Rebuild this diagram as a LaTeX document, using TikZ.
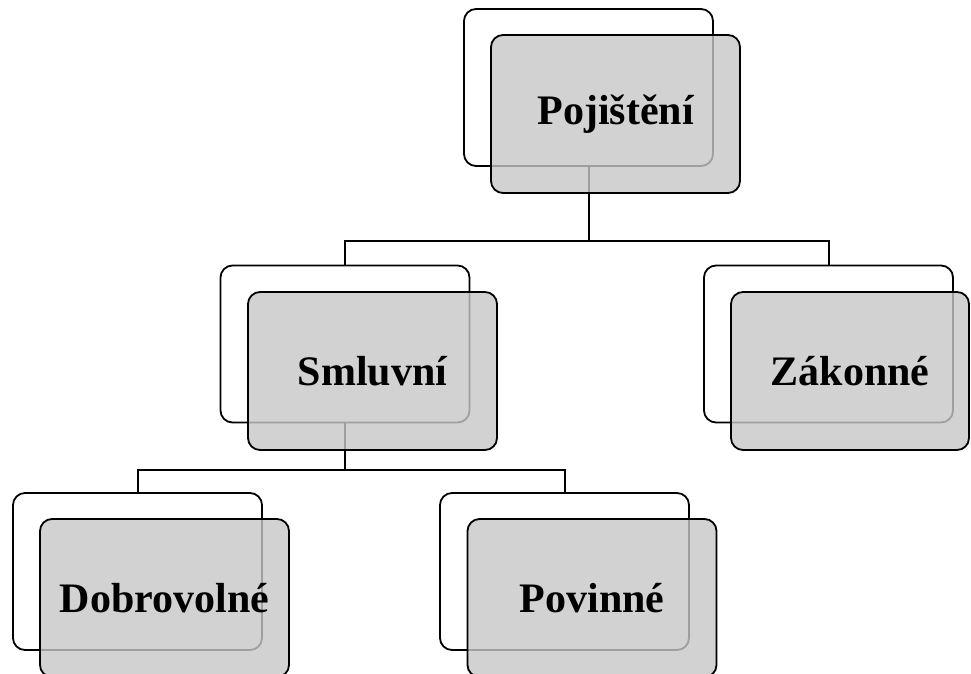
\documentclass[tikz,border=0pt]{standalone}
\usepackage{fontspec}
\setmainfont{Liberation Serif}
\usetikzlibrary{positioning}
\definecolor{frontgray}{RGB}{199,199,199}
\tikzstyle{back} = [draw,line width=1.8pt,fill=white,rectangle,rounded corners=12pt,inner sep=0,minimum width=249pt,minimum height=157pt]
\tikzstyle{front} = [draw,line width=1.8pt,fill=frontgray,fill opacity=.8,text opacity=1,rectangle,rounded corners=12pt,inner sep=0,minimum width=249pt,minimum height=158pt,font=\fontsize{42}{48}\selectfont\bfseries]
\tikzstyle{branch} = [draw,line width=2pt]

\begin{document}
\begin{tikzpicture}[x=1pt,y=-1pt]
      \useasboundingbox (0,0) rectangle (971,674);
      % back boxes
      \node[back] (pojisteniB) at (588.5,87.5) {};
      \node[back] (smluvniB) at (345,344) {};
      \node[back] (zakonneB) at (828.5,344) {};
      \node[back] (dobrovolneB) at (137.5,571.5) {};
      \node[back] (povinneB) at (564.5,571.5) {};
      % branches
      \coordinate (split1) at (588.5,241);
      \coordinate (split2) at (345,470);
      \path[branch] (pojisteniB.south) -- (split1) -| (smluvniB.north);
      \path[branch] (split1) -| (zakonneB.north);
      \path[branch] (smluvniB.south) -- (split2) -| (dobrovolneB.north);
      \path[branch] (split2) -| (povinneB.north);
      % front boxes
      \node[front] (pojisteni) at (615.5,114) {Pojištění};
      \node[front] (smluvni) at (372.5,371) {Smluvní};
      \node[front,minimum width=238pt] (zakonne) at (850,371) {Zákonné};
      \node[front] (dobrovolne) at (164.5,598) {Dobrovolné};
      \node[front] (povinne) at (592,598) {Povinné};
    \end{tikzpicture}
\end{document}
